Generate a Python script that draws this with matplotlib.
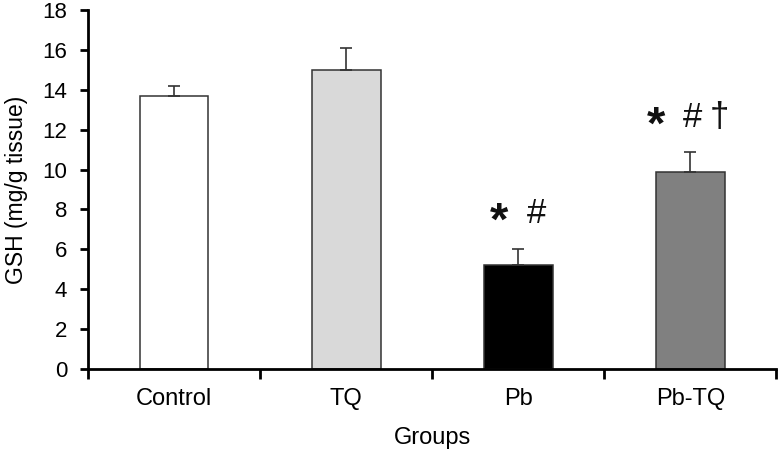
import matplotlib
matplotlib.use("Agg")
import matplotlib.pyplot as plt
import numpy as np

# GSH levels per group (mg/g tissue)
groups = ["Control", "TQ", "Pb", "Pb-TQ"]
gsh_mean = [13.7, 15.0, 5.2, 9.85]
gsh_err = [0.5, 1.1, 0.8, 1.05]
bar_colors = ["#ffffff", "#d9d9d9", "#000000", "#808080"]

# significance marks: (group index, symbol, x offset, y level)
sig_idx = [2, 2, 3, 3, 3]
sig_sym = ["*", "#", "*", "#", "\u2020"]
sig_dx = [-0.11, 0.105, -0.2, 0.015, 0.17]
sig_y = [7.8, 7.8, 12.6, 12.6, 12.6]

plt.rcParams["font.family"] = ["Liberation Sans", "DejaVu Sans"]

fig = plt.figure(figsize=(7.78, 4.5), dpi=100)
ax = fig.add_axes([0.113, 0.18, 0.885, 0.798])

x = np.arange(len(groups))
ax.bar(x, gsh_mean, width=0.4, color=bar_colors, edgecolor="#333333",
       linewidth=1.1, zorder=2)
ax.errorbar(x, gsh_mean, yerr=[np.zeros(len(x)), gsh_err], fmt="none",
            ecolor="#333333", elinewidth=1.2, capsize=4, capthick=1.2, zorder=3)

for i, sym, dx, yy in zip(sig_idx, sig_sym, sig_dx, sig_y):
    if sym == "*":
        # asterisk glyph sits high in the font, pull it down to line up
        ax.text(x[i] + dx, yy - 0.45, sym, ha="center", va="center",
                fontsize=34, fontweight="bold", color="#111111")
    else:
        ax.text(x[i] + dx, yy, sym, ha="center", va="center",
                fontsize=25, color="#111111")

ax.set_xlim(-0.5, 3.5)
ax.set_ylim(0, 18)
ax.set_yticks(np.arange(0, 19, 2))
ax.set_xticks(np.arange(-0.5, 3.6, 1))
ax.set_xticklabels([])
ax.set_xticks(x, minor=True)
ax.set_xticklabels(groups, minor=True)
ax.tick_params(axis="x", which="minor", length=0, pad=14, labelsize=17)
ax.tick_params(axis="x", which="major", direction="out", length=7, width=2)
ax.tick_params(axis="y", direction="out", length=6, width=2, labelsize=16,
               pad=9)

for side in ["top", "right"]:
    ax.spines[side].set_visible(False)
for side in ["left", "bottom"]:
    ax.spines[side].set_linewidth(2)

ax.set_xlabel("Groups", fontsize=17, labelpad=12)
ax.set_ylabel("GSH (mg/g tissue)", fontsize=16.5, labelpad=10)

fig.savefig("out.png", dpi=100)
